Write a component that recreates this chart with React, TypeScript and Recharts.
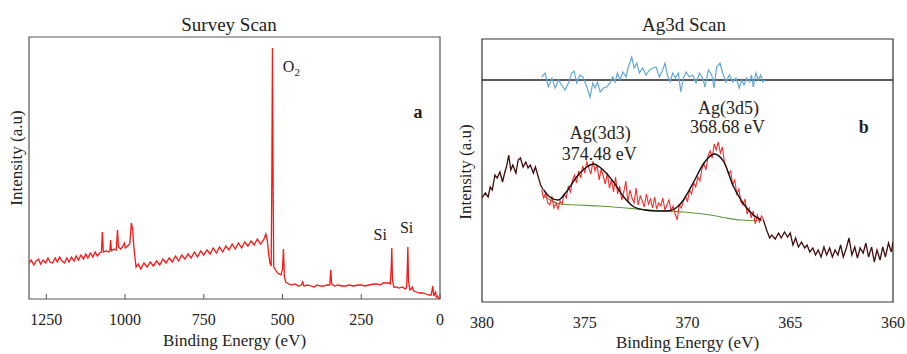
import React from "react";
import { LineChart, Line, XAxis, YAxis, ReferenceArea, ReferenceDot, ReferenceLine } from "recharts";

const FONT = '"Liberation Serif", "DejaVu Serif", "Times New Roman", Times, serif';

// ---- panel a: survey scan (binding energy eV / intensity a.u.) ----
const SURVEY_TICKS = [1250, 1000, 750, 500, 250, 0];
const SURVEY_BE = [
  1305, 1298, 1290, 1282, 1275, 1268, 1260, 1252, 1245, 1238,
  1230, 1222, 1215, 1208, 1200, 1192, 1185, 1178, 1170, 1162,
  1155, 1148, 1140, 1132, 1125, 1118, 1110, 1102, 1095, 1088,
  1080, 1075, 1072, 1069, 1060, 1052, 1048, 1046, 1043, 1036,
  1028, 1024, 1021, 1014, 1008, 1002, 999, 992, 985, 980,
  976, 972, 968, 965, 958, 950, 940, 930, 920, 910,
  900, 890, 880, 870, 860, 850, 840, 830, 820, 810,
  800, 790, 780, 770, 760, 750, 740, 730, 720, 710,
  700, 690, 680, 670, 660, 650, 640, 630, 620, 610,
  600, 590, 580, 570, 560, 553, 548, 544, 540, 536,
  534, 532, 530, 528, 522, 516, 510, 505, 500, 497,
  494, 490, 480, 470, 460, 450, 440, 436, 432, 420,
  410, 400, 390, 380, 370, 360, 350, 347, 344, 335,
  325, 310, 300, 290, 275, 260, 250, 240, 225, 210,
  200, 190, 180, 170, 162, 158, 155, 153, 151, 147,
  140, 130, 120, 110, 106, 104, 102, 100, 96, 92,
  88, 84, 75, 65, 55, 45, 35, 28, 23, 20,
  16, 14, 12, 8, 4, 0,
];
const SURVEY_INT = [
  36, 39, 34, 38, 40, 35, 39, 36, 41, 37,
  36, 41, 37, 42, 38, 36, 41, 37, 42, 38,
  43, 39, 44, 40, 45, 41, 46, 42, 47, 43,
  46, 47, 67, 47, 48, 47, 49, 59, 48, 50,
  49, 69, 52, 50, 52, 56, 51, 53, 55, 76,
  70, 52, 40, 32, 35, 30, 36, 32, 37, 33,
  38, 34, 40, 36, 41, 37, 43, 38, 44, 40,
  45, 41, 47, 42, 48, 44, 49, 45, 51, 46,
  52, 47, 53, 49, 55, 50, 56, 51, 57, 53,
  58, 54, 60, 55, 59, 65, 58, 45, 36, 33,
  120, 251, 120, 32, 29, 26, 25, 24, 30, 50,
  22, 17, 15, 14, 15, 13, 14, 17, 13, 14,
  13, 12, 14, 13, 13, 14, 14, 29, 15, 13,
  14, 13, 13, 14, 13, 14, 14, 13, 14, 15,
  15, 14, 16, 16, 16, 15, 30, 51, 20, 12,
  12, 11, 12, 10, 12, 28, 52, 18, 9, 10,
  12, 8, 7, 6, 6, 5, 4, 4, 13, 3,
  6, 7, 2, 3, 0, 1,
];

// ---- panel b: Ag3d high resolution scan ----
const AG_TICKS = [380, 375, 370, 365, 360];
const RAW_LEFT_BE = [
  380.0, 379.84, 379.7, 379.6, 379.5, 379.37, 379.26, 379.13, 379.0, 378.9,
  378.8, 378.7, 378.6, 378.5, 378.35, 378.24, 378.13, 378.0, 377.87, 377.76,
  377.65, 377.5, 377.4, 377.26, 377.15, 377.02,
];
const RAW_LEFT_INT = [
  104, 109, 105, 115, 112, 127, 124, 130, 120, 129,
  136, 147, 132, 137, 129, 142, 144, 135, 140, 134,
  137, 129, 135, 125, 117, 112,
];
const RAW_RIGHT_BE = [
  366.31, 366.15, 366.0, 365.9, 365.73, 365.57, 365.44, 365.28, 365.13, 365.0,
  364.87, 364.74, 364.6, 364.45, 364.3, 364.18, 364.05, 363.9, 363.77, 363.64,
  363.5, 363.36, 363.23, 363.08, 362.95, 362.82, 362.68, 362.55, 362.42, 362.27,
  362.14, 362.0, 361.86, 361.73, 361.6, 361.45, 361.32, 361.19, 361.04, 360.91,
  360.78, 360.63, 360.5, 360.37, 360.22, 360.08, 360.0,
];
const RAW_RIGHT_INT = [
  82, 72, 64, 67, 63, 69, 64, 70, 65, 69,
  57, 64, 55, 60, 54, 57, 50, 54, 47, 52,
  45, 55, 47, 54, 45, 52, 47, 57, 45, 54,
  64, 47, 55, 44, 54, 49, 59, 45, 55, 40,
  52, 42, 55, 45, 59, 50, 60,
];
const REGION_BE = [
  377.1, 377.0, 376.9, 376.8, 376.7, 376.6, 376.5, 376.4, 376.3, 376.2,
  376.1, 376.0, 375.9, 375.8, 375.7, 375.6, 375.5, 375.4, 375.3, 375.2,
  375.1, 375.0, 374.9, 374.8, 374.7, 374.6, 374.5, 374.4, 374.3, 374.2,
  374.1, 374.0, 373.9, 373.8, 373.7, 373.6, 373.5, 373.4, 373.3, 373.2,
  373.1, 373.0, 372.9, 372.8, 372.7, 372.6, 372.5, 372.4, 372.3, 372.2,
  372.1, 372.0, 371.9, 371.8, 371.7, 371.6, 371.5, 371.4, 371.3, 371.2,
  371.1, 371.0, 370.9, 370.8, 370.7, 370.6, 370.5, 370.4, 370.3, 370.2,
  370.1, 370.0, 369.9, 369.8, 369.7, 369.6, 369.5, 369.4, 369.3, 369.2,
  369.1, 369.0, 368.9, 368.8, 368.7, 368.6, 368.5, 368.4, 368.3, 368.2,
  368.1, 368.0, 367.9, 367.8, 367.7, 367.6, 367.5, 367.4, 367.3, 367.2,
  367.1, 367.0, 366.9, 366.8, 366.7, 366.6, 366.5, 366.4, 366.3,
];
const REGION_INT = [
  112, 104, 109, 99, 97, 106, 94, 99, 93, 101,
  98, 108, 104, 116, 110, 121, 127, 119, 131, 124,
  136, 129, 140, 134, 128, 141, 131, 137, 122, 133,
  126, 118, 129, 114, 122, 110, 125, 108, 116, 102,
  110, 121, 100, 112, 104, 99, 114, 97, 106, 101,
  95, 108, 98, 103, 94, 105, 93, 99, 96, 104,
  92, 97, 102, 91, 96, 88, 82, 97, 94, 101,
  106, 100, 112, 108, 119, 115, 125, 121, 133, 138,
  132, 146, 151, 144, 158, 152, 160, 149, 155, 139,
  134, 128, 131, 117, 122, 108, 113, 100, 97, 103,
  88, 94, 84, 91, 78, 87, 80, 86, 82,
];
const FIT_BE = [
  377.0, 376.7, 376.3, 375.9, 375.4, 374.9, 374.58, 374.1, 373.6, 373.1,
  372.6, 372.1, 371.5, 371.0, 370.5, 370.2, 369.7, 369.2, 368.7, 368.2,
  367.8, 367.3, 366.8, 366.4,
];
const FIT_INT = [
  112, 105, 102, 110, 125, 135, 138, 132, 120, 105,
  95, 92, 91, 91, 95, 102, 120, 139, 148, 139,
  117, 99, 87, 82,
];
const BG_BE = [377.0, 376.6, 376.2, 375.3, 374.3, 373.0, 371.8, 370.2, 368.9, 368.1, 367.4, 366.4];
const BG_INT = [106, 101, 98, 97, 96, 94, 92, 90, 87, 84, 82, 81];
const RESID_BE = [
  377.09, 376.93, 376.77, 376.6, 376.44, 376.28, 376.12, 375.96, 375.79, 375.63,
  375.52, 375.39, 375.23, 375.06, 374.9, 374.74, 374.61, 374.5, 374.38, 374.25,
  374.09, 373.93, 373.77, 373.64, 373.52, 373.41, 373.28, 373.15, 372.99, 372.88,
  372.71, 372.6, 372.47, 372.34, 372.18, 372.02, 371.85, 371.69, 371.53, 371.37,
  371.21, 371.09, 370.98, 370.85, 370.72, 370.59, 370.44, 370.33, 370.2, 370.07,
  369.91, 369.75, 369.58, 369.42, 369.26, 369.15, 368.98, 368.82, 368.71, 368.58,
  368.42, 368.29, 368.13, 367.96, 367.8, 367.64, 367.48, 367.36, 367.25, 367.12,
  366.99, 366.88, 366.8, 366.67, 366.55, 366.44, 366.34, 366.23,
];
const RESID = [
  3, 7, -7, 2, -8, 0, -5, -10, -3, 7,
  9, -3, 5, 2, -7, -17, -3, -8, -2, -12,
  -8, -7, -3, 3, -2, 7, 0, 8, 3, 13,
  23, 12, 17, 7, 12, 5, 10, 12, 13, 3,
  10, 17, 5, -2, 7, 2, 7, -12, 2, 8,
  3, 5, -3, 7, 2, -7, 10, 5, -8, 13,
  17, 7, -2, 5, -2, 2, -8, 0, -5, 2,
  -2, 5, -7, 7, 0, 5, -2, 0,
];

const zip = (xs: number[], ys: number[]) => xs.map((e, i) => ({ e, v: ys[i] }));

const BottomTick = (props: any) => {
  const { x, y, payload, inward } = props;
  return (
    <g>
      {inward && <line x1={x} y1={y} x2={x} y2={y - 5} stroke="#555" />}
      <text x={x} y={y + 26} textAnchor="middle" fontFamily={FONT} fontSize={16} fill="#222">
        {payload.value}
      </text>
    </g>
  );
};

const yTitle = (cx: number, cy: number) => () => (
  <text
    x={cx}
    y={cy}
    transform={`rotate(-90 ${cx} ${cy})`}
    textAnchor="middle"
    fontFamily={FONT}
    fontSize={17}
    fill="#222"
  >
    Intensity (a.u)
  </text>
);

// text label pinned to a data point (baseline at the point)
const note = (text: React.ReactNode, size = 18, bold = false, anchor = "middle") => ({
  content: (p: any) => (
    <text
      x={p.viewBox.x}
      y={p.viewBox.y}
      textAnchor={anchor}
      fontFamily={FONT}
      fontSize={size}
      fontWeight={bold ? "bold" : "normal"}
      fill="#222"
    >
      {text}
    </text>
  ),
});

const titleStyle = (cx: number): React.CSSProperties => ({
  position: "absolute",
  left: cx,
  top: 15,
  transform: "translateX(-50%)",
  fontFamily: FONT,
  fontSize: 19,
  lineHeight: "19px",
  color: "#222",
  whiteSpace: "nowrap",
});

export default function App() {
  const survey = zip(SURVEY_BE, SURVEY_INT);
  const rawLeft = zip(RAW_LEFT_BE, RAW_LEFT_INT);
  const rawRight = zip(RAW_RIGHT_BE, RAW_RIGHT_INT);
  const region = zip(REGION_BE, REGION_INT);
  const fit = zip(FIT_BE, FIT_INT);
  const bg = zip(BG_BE, BG_INT);
  const resid = zip(RESID_BE, RESID);

  return (
    <div style={{ position: "absolute", left: 0, top: 0, width: 907, height: 354, background: "#fff" }}>
      <div style={titleStyle(229)}>Survey Scan</div>
      <div style={titleStyle(684)}>Ag3d Scan</div>

      <div style={{ position: "absolute", left: 0, top: 0 }}>
        <LineChart width={450} height={354} margin={{ top: 37, right: 10, bottom: 25, left: 0 }}>
          <XAxis
            type="number"
            dataKey="e"
            domain={[0, 1305]}
            reversed
            allowDataOverflow
            ticks={SURVEY_TICKS}
            interval={0}
            height={30}
            axisLine={false}
            tickLine={false}
            tickSize={0}
            tickMargin={0}
            tick={<BottomTick inward />}
            label={{
              value: "Binding Energy (eV)",
              position: "bottom",
              offset: 5,
              style: { fontFamily: FONT, fontSize: 17, fill: "#222" },
            }}
          />
          <YAxis
            type="number"
            dataKey="v"
            domain={[0, 262]}
            allowDataOverflow
            width={29}
            tick={false}
            axisLine={false}
            tickLine={false}
            label={{ content: yTitle(22, 158) }}
          />
          <ReferenceArea x1={0} x2={1305} y1={0} y2={262} fill="none" fillOpacity={0} stroke="#555" strokeWidth={1.2} />
          <Line data={survey} dataKey="v" type="linear" stroke="#ff1414" strokeWidth={1.3} dot={false} isAnimationActive={false} />
          <ReferenceDot x={499} y={227} r={0} stroke="none" label={note(<>O<tspan fontSize={11} dy={4}>2</tspan></>, 16, false, "start")} />
          <ReferenceDot x={70} y={181} r={0} stroke="none" label={note("a", 18, true)} />
          <ReferenceDot x={190} y={59} r={0} stroke="none" label={note("Si", 16)} />
          <ReferenceDot x={106} y={66} r={0} stroke="none" label={note("Si", 16)} />
        </LineChart>
      </div>

      <div style={{ position: "absolute", left: 450, top: 0 }}>
        <LineChart width={457} height={354} margin={{ top: 39, right: 14, bottom: 22, left: 0 }}>
          <XAxis
            type="number"
            dataKey="e"
            domain={[360, 380]}
            reversed
            allowDataOverflow
            ticks={AG_TICKS}
            interval={0}
            height={30}
            axisLine={false}
            tickLine={false}
            tickSize={0}
            tickMargin={0}
            tick={<BottomTick />}
            label={{
              value: "Binding Energy (eV)",
              position: "bottom",
              offset: 4,
              style: { fontFamily: FONT, fontSize: 17, fill: "#222" },
            }}
          />
          <YAxis
            yAxisId="s"
            type="number"
            dataKey="v"
            domain={[0, 263]}
            allowDataOverflow
            width={32}
            tick={false}
            axisLine={false}
            tickLine={false}
            label={{ content: yTitle(21, 172) }}
          />
          <YAxis yAxisId="r" type="number" domain={[-222, 41]} allowDataOverflow hide />
          <ReferenceArea yAxisId="s" x1={360} x2={380} y1={0} y2={263} fill="none" fillOpacity={0} stroke="#333" strokeWidth={1.2} />
          <ReferenceLine yAxisId="r" y={0} stroke="#222" strokeWidth={1.4} />
          <Line yAxisId="r" data={resid} dataKey="v" type="linear" stroke="#62a8d8" strokeWidth={1.2} dot={false} isAnimationActive={false} />
          <Line yAxisId="s" data={rawLeft} dataKey="v" type="linear" stroke="#420c0c" strokeWidth={1.3} dot={false} isAnimationActive={false} />
          <Line yAxisId="s" data={rawRight} dataKey="v" type="linear" stroke="#420c0c" strokeWidth={1.3} dot={false} isAnimationActive={false} />
          <Line yAxisId="s" data={bg} dataKey="v" type="monotone" stroke="#5f9a3a" strokeWidth={1.2} dot={false} isAnimationActive={false} />
          <Line yAxisId="s" data={region} dataKey="v" type="linear" stroke="#ff2a2a" strokeWidth={1.1} dot={false} isAnimationActive={false} />
          <Line yAxisId="s" data={fit} dataKey="v" type="monotone" stroke="#111" strokeWidth={1.4} dot={false} isAnimationActive={false} />
          <ReferenceDot yAxisId="s" x={374.24} y={163} r={0} stroke="none" label={note("Ag(3d3)")} />
          <ReferenceDot yAxisId="s" x={374.29} y={142} r={0} stroke="none" label={note("374.48 eV")} />
          <ReferenceDot yAxisId="s" x={368.0} y={188} r={0} stroke="none" label={note("Ag(3d5)")} />
          <ReferenceDot yAxisId="s" x={368.05} y={169} r={0} stroke="none" label={note("368.68 eV")} />
          <ReferenceDot yAxisId="s" x={361.42} y={169} r={0} stroke="none" label={note("b", 18, true)} />
        </LineChart>
      </div>
    </div>
  );
}
